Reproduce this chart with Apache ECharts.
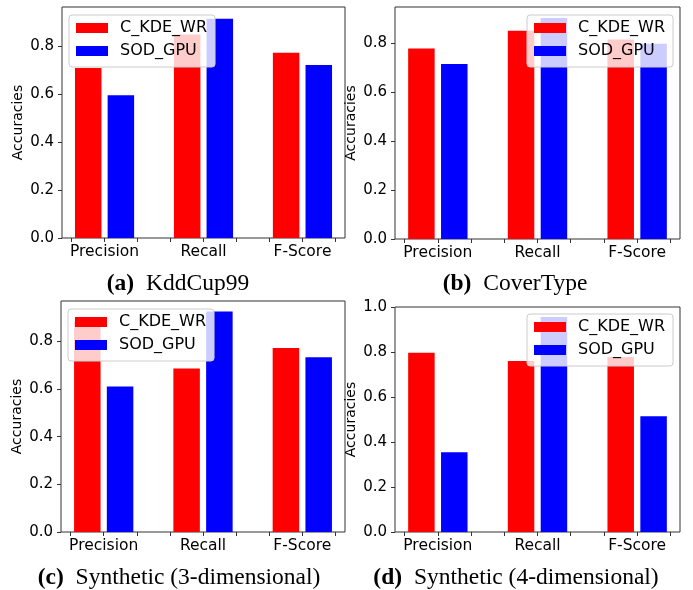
<!DOCTYPE html>
<html><head><meta charset="utf-8">
<script src="https://cdn.jsdelivr.net/npm/echarts@6/dist/echarts.min.js"></script>
<style>html,body{margin:0;padding:0;background:#fff}#c{width:693px;height:590px}</style>
</head><body><div id="c"></div>
<script>
// ---- data ----
const categories = ['Precision', 'Recall', 'F-Score'];
const seriesNames = ['C_KDE_WR', 'SOD_GPU'];
const kddC_KDE = [0.708, 0.847, 0.771];
const kddSOD = [0.595, 0.913, 0.720];
const coverC_KDE = [0.778, 0.850, 0.814];
const coverSOD = [0.714, 0.902, 0.797];
const syn3C_KDE = [0.884, 0.687, 0.773];
const syn3SOD = [0.611, 0.926, 0.734];
const syn4C_KDE = [0.797, 0.760, 0.778];
const syn4SOD = [0.354, 0.956, 0.515];
const yTicksABC = [0, 0.2, 0.4, 0.6, 0.8];
const yTicksD = [0, 0.2, 0.4, 0.6, 0.8, 1.0];
const captionTags = ['(a)', '(b)', '(c)', '(d)'];
const captionNames = ['KddCup99', 'CoverType', 'Synthetic (3-dimensional)', 'Synthetic (4-dimensional)'];

// ---- layout ----
const panels = [
  {c: kddC_KDE, s: kddSOD, ymax: 0.962, ticks: yTicksABC, grid: {left: 62, top: 7, width: 283, height: 231}, legend: {left: 69, top: 15}, cap: [178, 284]},
  {c: coverC_KDE, s: coverSOD, ymax: 0.947, ticks: yTicksABC, grid: {left: 395, top: 7, width: 285, height: 232}, legend: {left: 527, top: 15}, cap: [515, 284]},
  {c: syn3C_KDE, s: syn3SOD, ymax: 0.97, ticks: yTicksABC, grid: {left: 61, top: 301, width: 284, height: 231}, legend: {left: 68, top: 309}, cap: [179, 578]},
  {c: syn4C_KDE, s: syn4SOD, ymax: 1.0, ticks: yTicksD, grid: {left: 395, top: 307, width: 285, height: 225}, legend: {left: 527, top: 314}, cap: [516, 578]}
];
const colors = ['#ff0000', '#0000ff'];
const offsets = [-0.165, 0.165];
const xTickVals = [-1/3, 0, 1/3, 2/3, 1, 4/3, 5/3, 2, 7/3];
const FONT = 'DejaVu Sans';
const AX = '#333333';

const grids = [], xAxes = [], yAxes = [], series = [], legends = [], graphics = [];
panels.forEach((p, k) => {
  grids.push(Object.assign({show: true, borderColor: AX, borderWidth: 1, backgroundColor: 'transparent', containLabel: false, outerBoundsMode: 'none'}, p.grid));
  xAxes.push({
    type: 'value', gridIndex: k, min: -0.43, max: 2.43, position: 'bottom',
    axisLine: {show: false, onZero: false},
    splitLine: {show: false},
    axisTick: {show: true, inside: false, length: 4, customValues: xTickVals, lineStyle: {color: AX}},
    axisLabel: {show: true, customValues: [0, 1, 2], margin: 6, color: '#000', fontSize: 15.5, fontFamily: FONT,
      formatter: v => categories[Math.round(v)]}
  });
  yAxes.push({
    type: 'value', gridIndex: k, min: 0, max: p.ymax, position: 'left',
    axisLine: {show: false, onZero: false},
    splitLine: {show: false},
    axisTick: {show: true, inside: false, length: 4, customValues: p.ticks, lineStyle: {color: AX}},
    axisLabel: {show: true, customValues: p.ticks, margin: 8, color: '#000', fontSize: 15, fontFamily: FONT,
      formatter: v => v.toFixed(1)},
    name: 'Accuracies', nameLocation: 'middle', nameGap: 37, nameRotate: 90,
    nameTextStyle: {color: '#000', fontSize: 14, fontFamily: FONT}
  });
  [p.c, p.s].forEach((vals, si) => {
    series.push({
      type: 'bar', name: seriesNames[si], xAxisIndex: k, yAxisIndex: k,
      data: vals.map((v, i) => [i + offsets[si], v]),
      barWidth: 26.5, barGap: '-100%',
      itemStyle: {color: colors[si]},
      emphasis: {disabled: true}, z: 2
    });
  });
  legends.push({
    orient: 'vertical', left: p.legend.left, top: p.legend.top,
    data: seriesNames.map((n, i) => ({name: n, icon: 'rect', itemStyle: {color: colors[i]}})),
    itemWidth: 32, itemHeight: 10, itemGap: 7,
    padding: [5, 8, 8, 7],
    backgroundColor: 'rgba(255,255,255,0.8)', borderColor: '#cccccc', borderWidth: 1, borderRadius: 3,
    selectedMode: false, z: 10,
    textStyle: {fontSize: 16, fontFamily: FONT, color: '#000', lineHeight: 16, padding: [0, 0, 0, 7]}
  });
  graphics.push({
    type: 'text', x: p.cap[0], y: p.cap[1], z: 10,
    style: {
      text: '{b|' + captionTags[k] + '} ' + captionNames[k],
      rich: {b: {fontWeight: 'bold', fontFamily: 'Liberation Serif', fontSize: 23.5, fill: '#000', padding: [0, 6, 0, 0]}},
      fontFamily: 'Liberation Serif', fontSize: 23.5, fill: '#000', align: 'center', verticalAlign: 'middle'
    }
  });
});

const chart = echarts.init(document.getElementById('c'), null, {renderer: 'canvas'});
chart.setOption({
  animation: false,
  backgroundColor: '#ffffff',
  grid: grids, xAxis: xAxes, yAxis: yAxes, series: series, legend: legends, graphic: graphics
});
</script>
</body></html>
